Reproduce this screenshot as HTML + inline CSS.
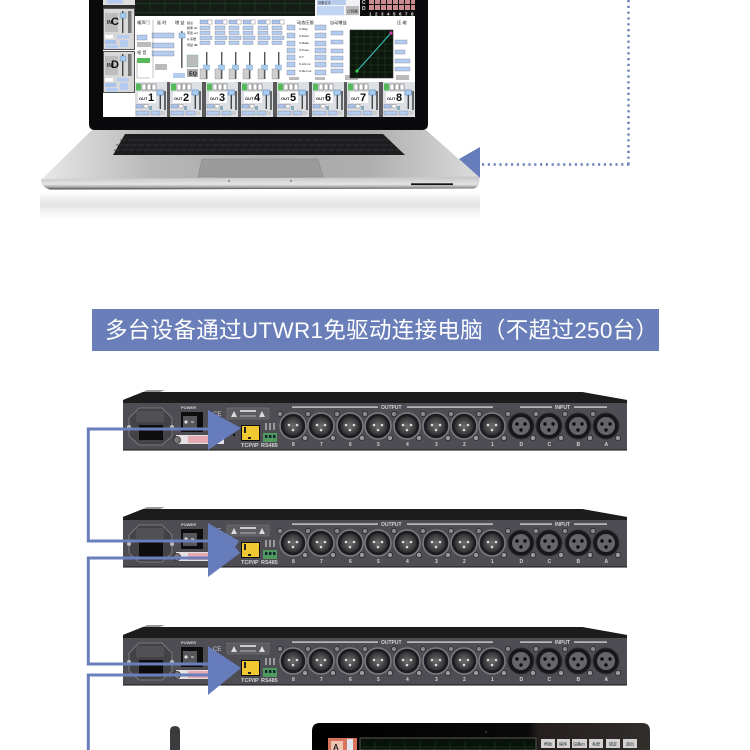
<!DOCTYPE html>
<html>
<head>
<meta charset="utf-8">
<style>
html,body{margin:0;padding:0;background:#fff;width:750px;height:750px;overflow:hidden}
svg{display:block}
text{font-family:"Liberation Sans","Noto Sans CJK SC",sans-serif}
</style>
</head>
<body>
<svg width="750" height="750" viewBox="0 0 750 750" xmlns="http://www.w3.org/2000/svg">
<defs>
<filter id="soft" x="-2%" y="-2%" width="104%" height="104%"><feGaussianBlur stdDeviation="0.35"/></filter>
<filter id="soft2" x="-2%" y="-2%" width="104%" height="104%"><feGaussianBlur stdDeviation="0.22"/></filter>
<linearGradient id="base" x1="0" x2="1" y1="0" y2="0"><stop offset="0" stop-color="#e8e8e8"/><stop offset=".25" stop-color="#b8b8b8"/><stop offset=".5" stop-color="#a8a8a8"/><stop offset=".75" stop-color="#aeaeae"/><stop offset="1" stop-color="#dcdcdc"/></linearGradient>
<linearGradient id="lip" x1="0" x2="0" y1="0" y2="1"><stop offset="0" stop-color="#c4c4c4"/><stop offset=".6" stop-color="#e4e4e4"/><stop offset=".85" stop-color="#9c9c9c"/><stop offset="1" stop-color="#3c3c3c"/></linearGradient>
<linearGradient id="refl" x1="0" x2="0" y1="0" y2="1"><stop offset="0" stop-color="#fff"/><stop offset=".2" stop-color="#f2f2f2"/><stop offset=".5" stop-color="#e2e2e2"/><stop offset=".68" stop-color="#f0f0f0"/><stop offset="1" stop-color="#fff"/></linearGradient>
<linearGradient id="gloss" x1="0" x2="1" y1="0" y2="0"><stop offset="0" stop-color="#000"/><stop offset=".64" stop-color="#0a0a0a"/><stop offset=".67" stop-color="#241f1c"/><stop offset="1" stop-color="#322e2b"/></linearGradient>
<radialGradient id="xl"><stop offset="0" stop-color="#6e6e6e"/><stop offset="1" stop-color="#303032"/></radialGradient>
<g id="xo">
<circle r="13" fill="#1e1e22" stroke="#7e7e80" stroke-width="1.5"/>
<circle r="9.5" fill="url(#xl)"/>
<circle cx="-4" cy="-1" r="1.3" fill="#ddd"/><circle cx="4" cy="-1" r="1.3" fill="#ddd"/><circle cy="4" r="1.3" fill="#ddd"/>
<circle cx="-13" cy="-12" r="2.6" fill="#888" stroke="#222" stroke-width=".7"/><circle cx="12" cy="12" r="2.6" fill="#999" stroke="#222" stroke-width=".7"/>
</g>
<g id="xi">
<circle r="13" fill="#17171a" stroke="#333" stroke-width="1"/>
<circle r="9" fill="#66666a"/>
<circle cx="-4" cy="-2" r="1.7" fill="#111"/><circle cx="4" cy="-2" r="1.7" fill="#111"/><circle cy="4" r="1.7" fill="#111"/>
<circle cx="-13" cy="-12" r="2.6" fill="#888" stroke="#222" stroke-width=".7"/><circle cx="12" cy="12" r="2.6" fill="#999" stroke="#222" stroke-width=".7"/>
</g>
<g id="rack">
<path d="M123 400L143 392H582L627 400V450H123Z" fill="#4d4e52"/>
<path d="M123 400L143 392H582L627 400V403H123Z" fill="#1b1b1d"/>
<path d="M143 392L147 390H165L160 392Z" fill="#999"/>
<rect x="123" y="449" width="504" height="1.6" fill="#333"/>
<path d="M139 408H162L172 418V436L162 445H139L129 436V418Z" fill="#434346" stroke="#888" stroke-width=".8"/>
<rect x="136" y="411" width="28" height="11" fill="#515153"/>
<rect x="139" y="425" width="24" height="15" fill="#0d0d0f"/>
<circle cx="129" cy="427" r="2" fill="#bbb"/><circle cx="172" cy="427" r="2" fill="#bbb"/>
<rect x="181" y="412" width="22" height="20" fill="#111"/>
<rect x="183" y="416" width="14" height="13" fill="#55565a"/>
<circle cx="186" cy="422" r="1.6" fill="#ddd"/><rect x="191" y="421.5" width="3" height="1" fill="#ddd"/>
<rect x="227" y="408" width="42" height="11" fill="#5c5d61" stroke="#777" stroke-width=".6"/>
<path d="M231 417L234 411L237 417ZM259 417L262 411L265 417Z" fill="#ddd"/>
<rect x="240" y="410" width="16" height="2" fill="#ccc"/><rect x="240" y="415" width="16" height="2" fill="#888"/>
<rect x="176" y="435" width="48" height="9" fill="#e6e0e2"/>
<rect x="188" y="436" width="22" height="7" fill="#e5a9b2"/>
<circle cx="177" cy="440" r="3.5" fill="#777" stroke="#222" stroke-width=".8"/>
<circle cx="234" cy="435" r="1.2" fill="#111"/>
<rect x="241" y="425" width="19" height="16" fill="#111"/>
<rect x="242" y="426" width="17" height="14" fill="#f0c832"/>
<rect x="244" y="427" width="2" height="6" fill="#222"/><rect x="248" y="437" width="3" height="2" fill="#222"/>
<rect x="263" y="433" width="14" height="9" fill="#4f9a5c"/>
<rect x="265" y="435" width="2.4" height="3" fill="#123"/><rect x="269" y="435" width="2.4" height="3" fill="#123"/><rect x="273" y="435" width="2.4" height="3" fill="#123"/>
<rect x="265" y="423" width="2" height="7" fill="#9a9a9a"/><rect x="269" y="423" width="2" height="7" fill="#9a9a9a"/><rect x="273" y="423" width="2" height="7" fill="#9a9a9a"/>
<rect x="292" y="406.4" width="86" height="1.4" fill="#cfd0d2"/><rect x="407" y="406.4" width="86" height="1.4" fill="#cfd0d2"/>
<rect x="520" y="406.4" width="32" height="1.4" fill="#cfd0d2"/><rect x="574" y="406.4" width="33" height="1.4" fill="#cfd0d2"/>
<use href="#xo" x="293" y="426"/><use href="#xo" x="321" y="426"/><use href="#xo" x="350" y="426"/><use href="#xo" x="378" y="426"/>
<use href="#xo" x="407" y="426"/><use href="#xo" x="436" y="426"/><use href="#xo" x="464" y="426"/><use href="#xo" x="492" y="426"/>
<use href="#xi" x="521" y="426"/><use href="#xi" x="549" y="426"/><use href="#xi" x="578" y="426"/><use href="#xi" x="606" y="426"/>
</g>
<g id="rlabels" font-size="5" fill="#d4d4d4" font-weight="bold">
<text x="181" y="409" font-size="4">POWER</text>
<text x="213" y="416" font-size="6" font-weight="normal">CE</text>
<text x="381" y="409">OUTPUT</text><text x="555" y="409">INPUT</text>
<text x="241" y="447" font-size="5.5">TCP/IP</text><text x="261" y="447" font-size="5.5">RS485</text>
<text x="292 320 349 377 406 435 463 491 519.5 547.5 576.5 604.5" y="446">87654321DCBA</text>
</g>
<g id="m">
<rect width="32" height="35" fill="#dcdfe4"/>
<rect x="1" y="1.5" width="5" height="7" fill="#55b85a"/>
<rect x="7" y="2" width="4" height="6" fill="#fff" stroke="#555" stroke-width=".5"/><rect x="12" y="2" width="4" height="6" fill="#fff" stroke="#555" stroke-width=".5"/><rect x="17" y="2" width="4" height="6" fill="#fff" stroke="#555" stroke-width=".5"/>
<rect x="3" y="10" width="18" height="11" fill="#fff"/>
<rect x="24.6" y="8" width="1.4" height="19" fill="#444"/><rect x="22" y="8" width="6.5" height="5" fill="#a9cdf0" stroke="#4a7fb0" stroke-width=".5"/>
<rect x="29" y="9" width="2" height="19" fill="#666"/>
<rect x="1" y="22.5" width="7" height="3.5" fill="#a8c2ec" stroke="#667" stroke-width=".3"/><rect x="9" y="22.5" width="4" height="3.5" fill="#fff" stroke="#666" stroke-width=".4"/><rect x="14" y="24" width="3" height="4" fill="#8ab"/>
<rect x="1" y="29" width="13" height="4" fill="#b4ccf0" stroke="#667" stroke-width=".3"/><rect x="16" y="29" width="9" height="4" fill="#b4ccf0" stroke="#667" stroke-width=".3"/><rect x="26" y="29" width="4" height="4" fill="#ccc"/>
</g>
<g id="peq" stroke="#667" stroke-width=".3">
<rect width="12" height="4" fill="#a8c2ec"/><rect x="8" width="4" height="4" fill="#fff"/>
<rect y="6" width="10" height="3.5" fill="#b4ccf0"/><rect y="11" width="10" height="3.5" fill="#b4ccf0"/><rect y="16" width="12" height="3.5" fill="#b4ccf0"/><rect y="21" width="10" height="3.5" fill="#b4ccf0"/>
<rect x="6" y="32" width="1.4" height="27" fill="#555" stroke="none"/>
<rect x="3.5" y="45" width="6" height="5" fill="#a9cdf0" stroke="#4a7fb0"/>
<rect x="0" y="49" width="6" height="10" fill="#cfcfcf"/>
</g>
<g id="ch">
<rect x=".5" y=".5" width="31" height="41" fill="#d8d8d8" stroke="#555"/>
<rect x="2" y="5" width="13" height="19" fill="#bcbcbc"/>
<rect x="19" y="3" width="1.4" height="22" fill="#444"/><rect x="17" y="5" width="6" height="5" fill="#a9cdf0" stroke="#4a7fb0" stroke-width=".4"/>
<rect x="25" y="3" width="3.5" height="22" fill="#777"/>
<rect x="2" y="27" width="8" height="3.5" fill="#fff"/><rect x="14" y="27" width="12" height="3.5" fill="#b4ccf0"/>
<rect x="2" y="32" width="11" height="4" fill="#a8c2ec"/><rect x="17" y="32" width="8" height="7" fill="#b4ccf0"/>
<rect x="3" y="37" width="12" height="3.5" fill="#b4ccf0"/>
</g>
</defs>

<!-- laptop reflection -->
<rect x="40" y="192" width="440" height="27" fill="url(#refl)"/>
<!-- arrow behind laptop -->
<path d="M459 159L480 147V178Z" fill="#667cbb"/>
<!-- laptop base -->
<path d="M92 130H426L479 177Q481 186 474 188.5L50 189.5Q41 187 41 180Z" fill="url(#base)"/>
<path d="M41 179Q150 178 260 178T479 176.5Q481 186 474 188.5L50 189.5Q41 187 41 179Z" fill="url(#lip)"/>
<path d="M125 134H383L405 155H113Z" fill="#1d1d20"/>
<path d="M120 140H388M116 145H393M114 150H398" stroke="#3a3a3e" stroke-width=".7" stroke-dasharray="6 1.4"/>
<path d="M202 159H318L323 177H198Z" fill="#9b9b9b" stroke="#888" stroke-width=".6"/>
<rect x="411" y="183.3" width="42" height="1.8" fill="#151515"/>
<circle cx="229" cy="181" r=".9" fill="#666"/><circle cx="291" cy="181" r=".9" fill="#666"/>

<!-- bezel and screen -->
<path d="M89 0H428V124Q428 130 422 130H95Q89 130 89 124Z" fill="#0a0a0c"/>
<g filter="url(#soft2)">
<rect x="103" y="0" width="312" height="117" fill="#fff"/>

<!-- top dark EQ strip -->
<rect x="135" y="0" width="180" height="16" fill="#161c18"/>
<rect x="135" y="3" width="180" height=".5" fill="#1f5a2a"/><rect x="135" y="12" width="180" height=".5" fill="#2a4030"/>
<path d="M150 0V12M165 0V12M180 0V12M195 0V12M210 0V12M225 0V12M240 0V12M255 0V12M270 0V12M285 0V12M300 0V12" stroke="#1f4a28" stroke-width=".5"/>
<rect x="315" y="0" width="45" height="16" fill="#f0f2f6"/>
<rect x="317" y="0" width="29" height="5" fill="#b8cdee"/>
<text x="318" y="4" font-size="3.2" fill="#333">设备名字</text>
<rect x="317" y="6" width="27" height="9" fill="#c0d4f4"/>
<rect x="346" y="6" width="13" height="9" fill="#bbb"/><text x="347" y="12.5" font-size="3.6" fill="#222">计算器</text>
<rect x="360" y="0" width="55" height="16" fill="#101010"/>
<g fill="#c98a90"><rect x="369" y="0" width="5" height="4"/><rect x="375" y="0" width="5" height="4"/><rect x="381" y="0" width="5" height="4"/><rect x="387" y="0" width="5" height="4"/><rect x="393" y="0" width="5" height="4"/><rect x="399" y="0" width="5" height="4"/><rect x="405" y="0" width="5" height="4"/><rect x="411" y="0" width="4" height="4"/><rect x="369" y="5" width="5" height="5"/><rect x="375" y="5" width="5" height="5"/><rect x="381" y="5" width="5" height="5"/><rect x="387" y="5" width="5" height="5"/><rect x="393" y="5" width="5" height="5"/><rect x="399" y="5" width="5" height="5"/><rect x="405" y="5" width="5" height="5"/><rect x="411" y="5" width="4" height="5"/></g>
<text x="362" y="4" font-size="5" fill="#ddd" font-weight="bold">C</text><text x="362" y="10" font-size="5" fill="#ddd" font-weight="bold">D</text>
<text x="369 375 381 387 393 399 405 411" y="15.5" font-size="4.5" fill="#eee" font-weight="bold">12345678</text>

<!-- left column -->
<rect x="103" y="0" width="32" height="5" fill="#ddd"/><rect x="107" y="0" width="16" height="3.5" fill="#b4ccf0"/>
<rect x="103" y="5" width="32" height="3" fill="#333"/>
<use href="#ch" x="103" y="8"/><use href="#ch" x="103" y="51"/>
<text x="107" y="24" font-size="5" font-weight="bold" fill="#222">IN</text><text x="111" y="25" font-size="11" font-weight="bold" fill="#111">C</text>
<text x="107" y="67" font-size="5" font-weight="bold" fill="#222">IN</text><text x="111" y="68" font-size="11" font-weight="bold" fill="#111">D</text>

<!-- middle panel -->
<rect x="135" y="17" width="280" height="65" fill="#fff"/>
<g font-size="4.2" fill="#111">
<text x="137" y="24">噪声门</text><text x="157" y="24">延 时</text><text x="175" y="24">增 益</text>
<text x="297" y="24">动态压限</text><text x="330" y="24">自动增益</text><text x="397" y="24">压 缩</text>
<text x="137" y="54">哑 音</text>
<text x="187" y="24" font-size="3">频点</text><text x="187" y="29" font-size="3">频率 Hz</text><text x="187" y="34" font-size="3">带宽 oct</text><text x="187" y="40" font-size="3">Q 系数</text><text x="187" y="46" font-size="3">增益 dB</text>
<text x="299" y="30" font-size="3">X-Way</text><text x="299" y="37" font-size="3">X-Point</text><text x="299" y="44" font-size="3">X-Ratio</text><text x="299" y="51" font-size="3">X-Knee</text><text x="299" y="58" font-size="3">X-T</text><text x="299" y="65" font-size="3">X-Att ms</text><text x="299" y="72" font-size="3">X-Rel ms</text>
</g>
<g fill="#b4ccf0" stroke="#667" stroke-width=".3">
<rect x="137" y="35" width="10" height="5"/><rect x="152" y="33" width="22" height="5"/><rect x="152" y="43" width="22" height="5"/><rect x="152" y="51" width="22" height="5"/>
<rect x="287" y="25" width="8" height="5"/><rect x="287" y="33" width="8" height="5"/><rect x="287" y="41" width="8" height="5"/><rect x="287" y="48" width="8" height="5"/><rect x="287" y="55" width="8" height="5"/><rect x="287" y="62" width="8" height="5"/><rect x="287" y="70" width="8" height="5"/>
<rect x="315" y="25" width="11" height="5"/><rect x="315" y="33" width="11" height="5"/><rect x="315" y="41" width="11" height="5"/><rect x="315" y="48" width="11" height="5"/><rect x="315" y="55" width="11" height="5"/><rect x="315" y="62" width="11" height="5"/><rect x="315" y="70" width="11" height="5"/>
<rect x="331" y="31" width="12" height="4"/><rect x="331" y="40" width="12" height="4"/><rect x="331" y="49" width="12" height="4"/><rect x="331" y="56" width="12" height="4"/><rect x="331" y="63" width="12" height="4"/><rect x="331" y="69" width="12" height="4"/>
<rect x="395" y="40" width="12" height="4"/><rect x="395" y="50" width="10" height="4"/><rect x="395" y="59" width="15" height="4"/><rect x="395" y="67" width="15" height="4"/>
</g>
<rect x="137" y="42" width="14" height="5" fill="#bbb"/><rect x="155" y="64" width="12" height="6" fill="#bbb"/>
<rect x="137" y="58" width="13" height="5" fill="#58b85c"/>
<path d="M137 60V78H150M153 20V78" stroke="#888" stroke-width=".5" fill="none"/>
<rect x="181" y="31" width="1.6" height="37" fill="#666"/><rect x="179" y="33" width="6" height="5" fill="#a9cdf0" stroke="#4a7fb0" stroke-width=".4"/>
<rect x="173" y="73" width="12" height="5" fill="#b4ccf0"/>
<rect x="187" y="55" width="11" height="12" fill="#bbb" stroke="#7aa" stroke-width=".4"/><rect x="187" y="69" width="11" height="8" fill="#aaa"/>
<text x="189" y="75.5" font-size="5.5" font-weight="bold" fill="#111">EQ</text>
<use href="#peq" x="200" y="20"/><use href="#peq" x="215" y="20"/><use href="#peq" x="229" y="20"/><use href="#peq" x="243" y="20"/><use href="#peq" x="258" y="20"/><use href="#peq" x="272" y="20"/>
<rect x="345" y="75" width="13" height="5" fill="#bbb"/><rect x="396" y="75" width="13" height="5" fill="#bbb"/>
<rect x="289" y="77" width="10" height="3" fill="#bbb"/><rect x="315" y="77" width="10" height="3" fill="#bbb"/>
<!-- curve graph -->
<rect x="350" y="30" width="43" height="48" fill="#0a120c" stroke="#333" stroke-width=".6"/>
<path d="M350 37H393M350 44H393M350 51H393M350 58H393M350 65H393M350 72H393M357 30V78M364 30V78M371 30V78M378 30V78M385 30V78" stroke="#1f5a2a" stroke-width=".4"/>
<path d="M357 71L391 33" stroke="#3fc8c0" stroke-width="1"/>
<circle cx="357" cy="71" r="1.6" fill="#34d050"/><circle cx="391" cy="33" r="1.6" fill="#d040a8"/>

<!-- output modules -->
<rect x="135" y="82" width="280" height="35" fill="#5a5a5a"/>
<use href="#m" x="135" y="82"/><use href="#m" x="170" y="82"/><use href="#m" x="206" y="82"/><use href="#m" x="241" y="82"/><use href="#m" x="277" y="82"/><use href="#m" x="312" y="82"/><use href="#m" x="347" y="82"/><use href="#m" x="383" y="82"/>
<g fill="#111" font-weight="bold">
<text x="139" y="100" font-size="4">OUT</text><text x="148" y="101" font-size="11">1</text>
<text x="174" y="100" font-size="4">OUT</text><text x="183" y="101" font-size="11">2</text>
<text x="210" y="100" font-size="4">OUT</text><text x="219" y="101" font-size="11">3</text>
<text x="245" y="100" font-size="4">OUT</text><text x="254" y="101" font-size="11">4</text>
<text x="281" y="100" font-size="4">OUT</text><text x="290" y="101" font-size="11">5</text>
<text x="316" y="100" font-size="4">OUT</text><text x="325" y="101" font-size="11">6</text>
<text x="351" y="100" font-size="4">OUT</text><text x="360" y="101" font-size="11">7</text>
<text x="387" y="100" font-size="4">OUT</text><text x="396" y="101" font-size="11">8</text>
</g>
</g>

<!-- dotted link -->
<path d="M482 164.5H630" stroke="#6a7fb4" stroke-width="2.4" stroke-dasharray="2.2 3.6" fill="none"/>
<path d="M628.5 0V165" stroke="#6a7fb4" stroke-width="2.4" stroke-dasharray="2.2 3.6" fill="none"/>

<!-- banner -->
<rect x="92" y="309" width="567" height="42" fill="#6a7fb9"/>
<text x="105" y="338" font-size="22.5" fill="#fff" textLength="553" lengthAdjust="spacing">多台设备通过UTWR1免驱动连接电脑（不超过250台）</text>

<!-- rack units -->
<g filter="url(#soft)">
<use href="#rack"/><use href="#rlabels"/>
<use href="#rack" y="117"/><use href="#rlabels" y="117"/>
<use href="#rack" y="235"/><use href="#rlabels" y="235"/>
</g>

<!-- blue wires and arrows -->
<g fill="none" stroke="#6a7fbc" stroke-width="3">
<path d="M215 429H88.3V541H215"/>
<path d="M215 558H88.3V664H215"/>
<path d="M215 675H88.3V750"/>
</g>
<g fill="#667cbb">
<path d="M208 410L241 428L208 450Z"/>
<path d="M208 523L239 541L235 547L240 553L208 577Z"/>
<path d="M208 646L241 668L208 695Z"/>
</g>

<!-- antenna -->
<path d="M170 750V731Q170 726 175 726Q180 726 180 731V750Z" fill="#3c3c3e"/>
<path d="M172 732H178M172 737H178" stroke="#2a2a2a" stroke-width=".6"/>

<!-- tablet -->
<path d="M312 750V731Q312 723 320 723H642Q650 723 650 731V750Z" fill="url(#gloss)"/>
<circle cx="486" cy="732" r="1" fill="#444"/>
<rect x="328" y="738" width="29" height="12" fill="#d8735c"/>
<rect x="331" y="741" width="12" height="9" fill="#eec4b4"/>
<text x="333" y="750" font-size="8" font-weight="bold" fill="#222">A</text>
<rect x="347" y="739" width="6" height="11" fill="#dfe6f0"/>
<rect x="360" y="738" width="176" height="12" fill="#0a120c" stroke="#555" stroke-width="1"/>
<path d="M362 747H534M375 742V750M390 742V750M405 742V750M420 742V750M435 742V750M450 742V750M465 742V750M480 742V750M495 742V750M510 742V750M525 742V750" stroke="#1f4a28" stroke-width=".5"/>
<g fill="#d2d2d2"><rect x="541" y="739" width="14" height="9"/><rect x="557" y="739" width="13" height="9"/><rect x="572" y="739" width="15" height="9"/><rect x="589" y="739" width="14" height="9"/><rect x="606" y="739" width="14" height="9"/><rect x="623" y="739" width="14" height="9"/></g>
<g font-size="4" fill="#222"><text x="544" y="745.5">帮助</text><text x="559" y="745.5">程序</text><text x="573" y="745.5">设备ID</text><text x="592" y="745.5">系统</text><text x="609" y="745.5">锁定</text><text x="626" y="745.5">退出</text></g>
</svg>
</body>
</html>
